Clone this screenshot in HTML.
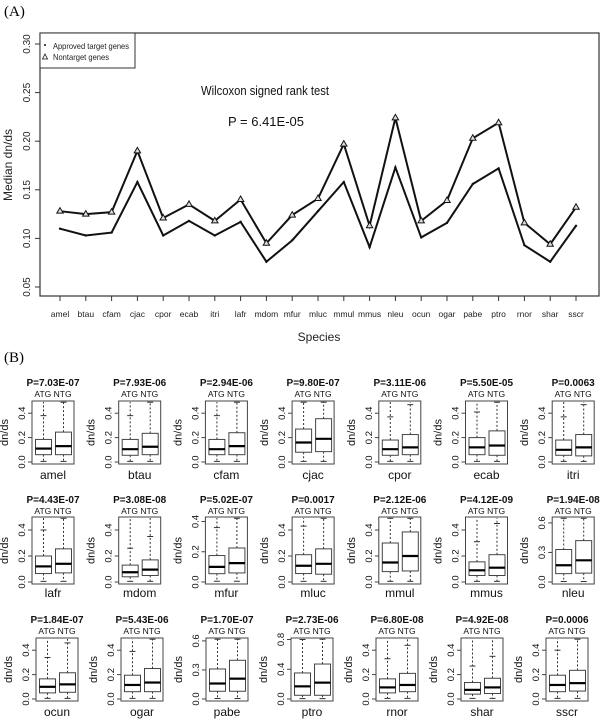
<!DOCTYPE html>
<html><head><meta charset="utf-8"><style>
body{margin:0;background:#fff;}
svg{display:block;font-family:"Liberation Sans",Arial,sans-serif;}
</style></head><body>
<svg id="chart" width="600" height="723" viewBox="0 0 600 723" xmlns="http://www.w3.org/2000/svg"></svg>
<script>
// Panel A data
const species = ["amel","btau","cfam","cjac","cpor","ecab","itri","lafr","mdom","mfur","mluc","mmul","mmus","nleu","ocun","ogar","pabe","ptro","rnor","shar","sscr"];
const atgMedian = [0.110,0.103,0.106,0.158,0.103,0.118,0.103,0.117,0.076,0.098,0.128,0.158,0.091,0.173,0.101,0.116,0.156,0.172,0.093,0.076,0.113];
const ntgMedian = [0.128,0.125,0.127,0.190,0.121,0.135,0.118,0.140,0.095,0.124,0.141,0.197,0.113,0.224,0.118,0.139,0.203,0.219,0.116,0.094,0.132];
const yTicksA = [0.05,0.10,0.15,0.20,0.25,0.30];
// Panel B data
const pValues = ["P=7.03E-07","P=7.93E-06","P=2.94E-06","P=9.80E-07","P=3.11E-06","P=5.50E-05","P=0.0063","P=4.43E-07","P=3.08E-08","P=5.02E-07","P=0.0017","P=2.12E-06","P=4.12E-09","P=1.94E-08","P=1.84E-07","P=5.43E-06","P=1.70E-07","P=2.73E-06","P=6.80E-08","P=4.92E-08","P=0.0006"];
const atgQ1 = [.06,.055,.06,.08,.055,.06,.055,.065,.04,.055,.065,.08,.05,.085,.05,.06,.08,.05,.05,.04,.06];
const atgMed = [.11,.105,.105,.16,.105,.12,.10,.12,.075,.10,.125,.15,.09,.17,.10,.115,.16,.17,.095,.075,.115];
const atgQ3 = [.185,.185,.185,.27,.18,.20,.18,.20,.13,.175,.21,.30,.155,.33,.165,.195,.31,.35,.165,.135,.195];
const atgWhisk = [.38,.38,.38,.5,.37,.41,.37,.40,.26,.36,.43,.5,.31,.66,.34,.39,.63,.8,.33,.27,.40];
const ntgQ1 = [.06,.06,.06,.085,.06,.055,.05,.07,.05,.06,.06,.085,.05,.09,.055,.06,.08,.05,.06,.045,.065];
const ntgMed = [.13,.125,.13,.19,.12,.135,.12,.14,.095,.125,.14,.20,.11,.22,.12,.135,.21,.22,.115,.095,.13];
const ntgQ3 = [.245,.235,.24,.355,.225,.255,.225,.255,.17,.225,.255,.385,.21,.42,.215,.25,.40,.47,.21,.17,.235];
const ntgWhisk = [.5,.5,.5,.5,.47,.5,.47,.5,.35,.43,.5,.5,.45,.66,.46,.5,.63,.82,.44,.35,.5];
const panelMax = [.5,.5,.5,.5,.5,.5,.5,.5,.5,.43,.5,.5,.5,.66,.5,.5,.63,.82,.5,.5,.5];
const tickStep = [.2,.2,.2,.2,.2,.2,.2,.2,.2,.2,.2,.2,.2,.3,.2,.2,.3,.4,.2,.2,.2];

const svg = document.getElementById('chart');
const NS = "http://www.w3.org/2000/svg";
function mk(tag, attrs, text){
  const e = document.createElementNS(NS, tag);
  for (const k in attrs) e.setAttribute(k, attrs[k]);
  if (text !== undefined) e.textContent = text;
  svg.appendChild(e);
  return e;
}
let e;
e = mk('text',{x:4,y:16,'font-family':'Liberation Serif, serif','font-size':15}, '(A)');


e = mk('text',{x:4,y:362,'font-family':'Liberation Serif, serif','font-size':15}, '(B)');



// Panel A
const xA = i => 60 + i * 25.8;
const yA = v => 44 + (0.30 - v) / 0.25 * 243;
e = mk('rect',{x:40,y:33,width:559,height:263,fill:'none',stroke:'#333','stroke-width':1.2});


yTicksA.forEach(t=>{
  const y = yA(t);
  e = mk('line',{x1:35,x2:40,y1:y,y2:y,stroke:'#333'});
  
  
  e = mk('text',{x:30,y:y,'font-size':10,'text-anchor':'middle',transform:`rotate(-90 30 ${y})`,fill:'#222'}, t.toFixed(2));
  
  
});
species.forEach((s,i)=>{
  const x = xA(i);
  e = mk('line',{x1:x,x2:x,y1:296,y2:301,stroke:'#333'});
  
  
  e = mk('text',{x:x,y:317,'font-size':8.5,'text-anchor':'middle',fill:'#222'}, s);
  
  
});
e = mk('text',{x:319,y:341,'font-size':12,'text-anchor':'middle',fill:'#222'}, 'Species');


e = mk('text',{x:12,y:165,'font-size':12,'text-anchor':'middle',transform:'rotate(-90 12 165)',fill:'#222'}, 'Median dn/ds');


e = mk('polyline',{points:atgMedian.map((v,i)=>xA(i)+','+yA(v)).join(' '),fill:'none',stroke:'#111','stroke-width':2});


e = mk('polyline',{points:ntgMedian.map((v,i)=>xA(i)+','+yA(v)).join(' '),fill:'none',stroke:'#111','stroke-width':2});


atgMedian.forEach((v,i)=>{
  e = mk('circle',{cx:xA(i),cy:yA(v),r:1.2,fill:'#111'});
  
  
});
ntgMedian.forEach((v,i)=>{
  const x=xA(i), y=yA(v);
  e = mk('polygon',{points:`${x},${y-3.5} ${x-3.2},${y+2} ${x+3.2},${y+2}`,fill:'#ddd',stroke:'#111','stroke-width':1});
  
  
});
e = mk('rect',{x:40,y:33,width:95,height:35,fill:'#fff',stroke:'#333','stroke-width':1});


e = mk('circle',{cx:45,cy:45,r:1,fill:'#111'});


e = mk('text',{x:53,y:49,'font-size':8.5,fill:'#222','textLength':76,'lengthAdjust':'spacingAndGlyphs'}, 'Approved target genes');


e = mk('polygon',{points:'45,54 42.5,59 47.5,59',fill:'none',stroke:'#111','stroke-width':0.8});


e = mk('text',{x:53,y:60,'font-size':8.5,fill:'#222','textLength':56,'lengthAdjust':'spacingAndGlyphs'}, 'Nontarget genes');


e = mk('text',{x:265,y:95,'font-size':13,'text-anchor':'middle',fill:'#111','textLength':128,'lengthAdjust':'spacingAndGlyphs'}, 'Wilcoxon signed rank test');


e = mk('text',{x:266,y:126,'font-size':13,'text-anchor':'middle',fill:'#111'}, 'P = 6.41E-05');



// Panel B
const rows = [
  {top:401,bot:464,left:32,step:86.7,title:386,sub:397,lab:479},
  {top:517,bot:584,left:32,step:86.7,title:503,sub:514,lab:597},
  {top:638,bot:701,left:36,step:85,title:623,sub:634,lab:716}
];
species.forEach((s,i)=>{
  const r = rows[Math.floor(i/7)], c = i%7;
  const fx = r.left + c*r.step, fw = 42;
  const max = panelMax[i];
  const y = v => (r.bot-2) - v/max*(r.bot-2-r.top);
  e = mk('rect',{x:fx,y:r.top,width:fw,height:r.bot-r.top,fill:'none',stroke:'#444','stroke-width':1});
  
  
  e = mk('text',{x:fx+21,y:r.title,'font-size':10,'font-weight':'bold','text-anchor':'middle',fill:'#111'}, pValues[i]);
  
  
  e = mk('text',{x:fx+21,y:r.sub,'font-size':8.5,'text-anchor':'middle',fill:'#111'}, 'ATG NTG');
  
  
  e = mk('text',{x:fx+21,y:r.lab,'font-size':12,'text-anchor':'middle',fill:'#111'}, s);
  
  
  e = mk('text',{x:fx-24,y:(r.top+r.bot)/2,'font-size':11,'text-anchor':'middle',transform:`rotate(-90 ${fx-24} ${(r.top+r.bot)/2})`,fill:'#111'}, 'dn/ds');
  
  
  for (let t=0; t<=max+1e-6; t+=tickStep[i]){
    const ty = y(t);
    e = mk('line',{x1:fx-4,x2:fx,y1:ty,y2:ty,stroke:'#444'});
    
    
    e = mk('text',{x:fx-7,y:ty,'font-size':9.5,'text-anchor':'middle',transform:`rotate(-90 ${fx-7} ${ty})`,fill:'#111'}, t.toFixed(1));
    
    
  }
  const groups = [
    {cx:fx+11.5,q1:atgQ1[i],md:atgMed[i],q3:atgQ3[i],wk:atgWhisk[i],n:'atg'},
    {cx:fx+31.5,q1:ntgQ1[i],md:ntgMed[i],q3:ntgQ3[i],wk:ntgWhisk[i],n:'ntg'}
  ];
  groups.forEach(g=>{
    e = mk('line',{x1:g.cx,x2:g.cx,y1:y(g.q3),y2:Math.max(r.top+1,y(max)),stroke:'#333','stroke-width':1,'stroke-dasharray':'2,2'});
    
    
    e = mk('line',{x1:g.cx-3,x2:g.cx+3,y1:y(Math.min(g.wk,max*0.98)),y2:y(Math.min(g.wk,max*0.98)),stroke:'#333','stroke-width':1});
    
    
    e = mk('line',{x1:g.cx,x2:g.cx,y1:y(g.q1),y2:y(0.005),stroke:'#333','stroke-width':1,'stroke-dasharray':'2,2'});
    
    
    e = mk('line',{x1:g.cx-3,x2:g.cx+3,y1:y(0.005),y2:y(0.005),stroke:'#333','stroke-width':1});
    
    
    e = mk('rect',{x:g.cx-8,y:y(g.q3),width:16,height:y(g.q1)-y(g.q3),fill:'#fff',stroke:'#444','stroke-width':1});
    
    
    e = mk('line',{x1:g.cx-8,x2:g.cx+8,y1:y(g.md),y2:y(g.md),stroke:'#000','stroke-width':2.2});
    
    
  });
});
</script>
</body></html>
